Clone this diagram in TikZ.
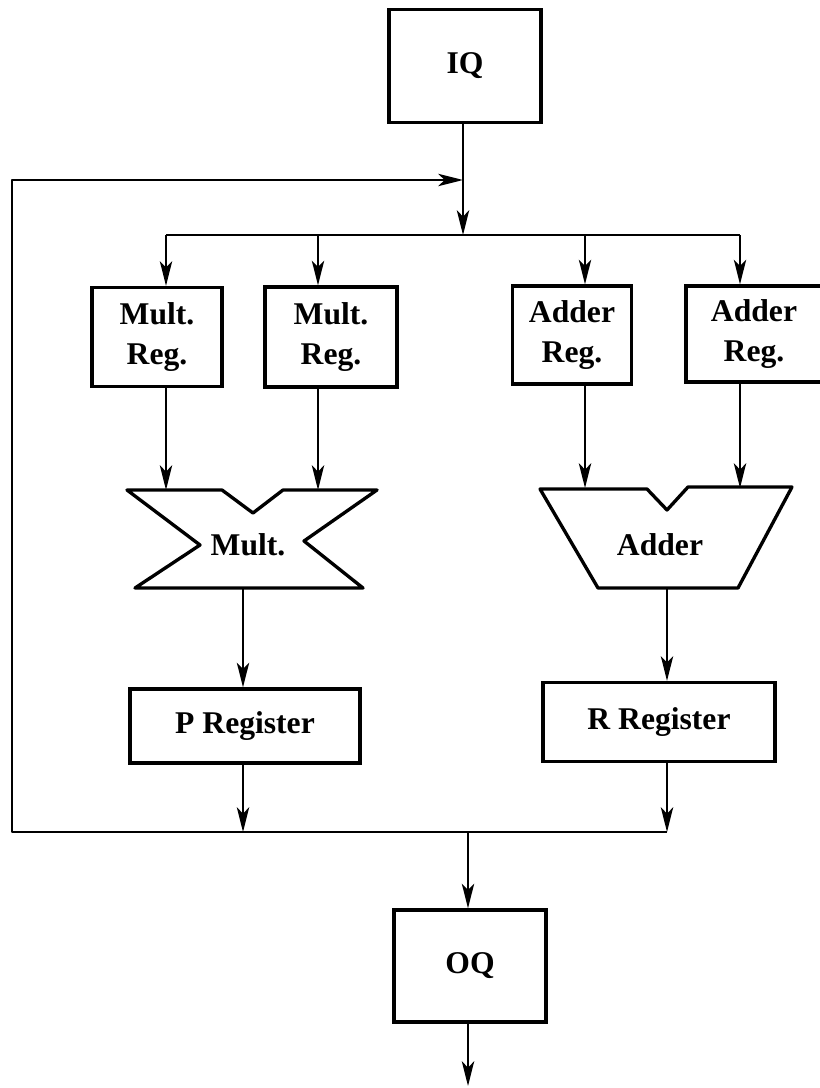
\documentclass[tikz,border=0pt]{standalone}
\usepackage{fontspec}
\setmainfont{Liberation Serif}
\usetikzlibrary{arrows.meta,calc}
\begin{document}
\begin{tikzpicture}[x=0.02cm,y=-0.02cm,
  box/.style={draw,line width=1.9pt,inner sep=0pt,align=center,font=\bfseries\fontsize{18}{23}\selectfont},
  wire/.style={line width=1.4pt,line join=round},
  arr/.style={wire,-{Stealth[length=14pt,width=7pt,inset=3.5pt]}},
  shp/.style={draw,line width=1.9pt,line join=round},
  lbl/.style={font=\bfseries\fontsize{18}{23}\selectfont,inner sep=0pt}]
\useasboundingbox (0,0) rectangle (819,1088);

% boxes
\node[box,minimum width=3.04cm,minimum height=2.26cm] (IQ) at (465,66) {IQ};
\node[box,minimum width=2.6cm,minimum height=1.98cm] (mr1) at (157,337) {Mult.\\Reg.};
\node[box,minimum width=2.64cm,minimum height=2.0cm] (mr2) at (331,337) {Mult.\\Reg.};
\node[box,minimum width=2.38cm,minimum height=1.96cm] (ar1) at (572,335) {Adder\\Reg.};
\node[box,minimum width=2.72cm,minimum height=1.92cm] (ar2) at (754,334) {Adder\\Reg.};
\node[box,minimum width=4.6cm,minimum height=1.48cm] (preg) at (245,726) {P Register};
\node[box,minimum width=4.64cm,minimum height=1.58cm] (rreg) at (659,722) {R Register};
\node[box,minimum width=3.04cm,minimum height=2.24cm] (OQ) at (470,966) {OQ};

% multiplier and adder shapes
\draw[shp] (127,490) -- (222,490) -- (253,513) -- (283,490) -- (377,490) -- (304,541)
  -- (363,588) -- (135,588) -- (200,545) -- cycle;
\node[lbl] (mult) at (248,545) {Mult.};
\draw[shp] (540,489) -- (647,489) -- (667,510) -- (688,487) -- (792,487) -- (738,588)
  -- (598,588) -- cycle;
\node[lbl] (adder) at (660,545) {Adder};

% named points
\coordinate (j1) at (463,180);
\coordinate (b0) at (463,235);
\coordinate (t1) at (166,235);
\coordinate (t2) at (318,235);
\coordinate (t3) at (585,235);
\coordinate (t4) at (740,235);
\coordinate (mtop) at (0,490);
\coordinate (atop) at (0,488);
\coordinate (mo) at (243,588);
\coordinate (ao) at (667,588);
\coordinate (bL) at (12,832);
\coordinate (bR) at (667,832);
\coordinate (bP) at (243,832);
\coordinate (bO) at (468,832);
\coordinate (lt) at (12,180);
\coordinate (oend) at (468,1086);

% connectors
\draw[arr] (j1 |- IQ.south) -- (b0);
\draw[arr] (bR) -- (bL) -- (lt) -- (j1);
\draw[wire] (t1) -- (t4);
\foreach \p/\q in {t1/mr1,t2/mr2,t3/ar1,t4/ar2}
  \draw[arr] (\p) -- (\p |- \q.north);
\draw[arr] (t1 |- mr1.south) -- (t1 |- mtop);
\draw[arr] (t2 |- mr2.south) -- (t2 |- mtop);
\draw[arr] (t3 |- ar1.south) -- (t3 |- atop);
\draw[arr] (t4 |- ar2.south) -- (t4 |- atop);
\draw[arr] (mo) -- (mo |- preg.north);
\draw[arr] (mo |- preg.south) -- (bP);
\draw[arr] (ao) -- (ao |- rreg.north);
\draw[arr] (ao |- rreg.south) -- (bR);
\draw[arr] (bO) -- (bO |- OQ.north);
\draw[arr] (bO |- OQ.south) -- (oend);
\end{tikzpicture}
\end{document}
